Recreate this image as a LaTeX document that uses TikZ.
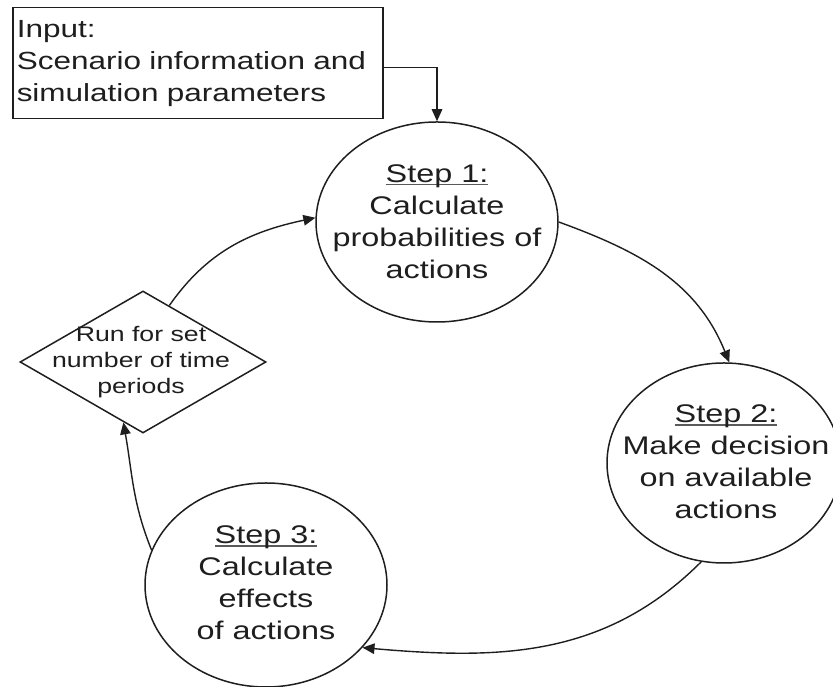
\documentclass[tikz,border=0pt]{standalone}
\usepackage{fontspec}
\setmainfont[FakeStretch=1.27]{Liberation Sans}
\usetikzlibrary{shapes.geometric,arrows.meta}
\definecolor{inkc}{RGB}{30,30,30}
\definecolor{txtc}{RGB}{30,30,30}
\definecolor{ulc}{RGB}{90,90,90}
\newcommand\stepline[1]{\leavevmode\setbox0\hbox{#1}\rlap{\color{ulc}\rule[-3.2pt]{\wd0}{1.8pt}}\box0}
\begin{document}
\begin{tikzpicture}[x=1pt,y=1pt,
  line width=1.5pt, draw=inkc,
  stepshape/.style={ellipse, draw, inner sep=0pt},
  steptext/.style={align=center, text=txtc, inner sep=0pt,
    font=\fontsize{25.5}{32}\selectfont},
  dtext/.style={align=center, text=txtc, inner sep=0pt,
    font=\fontsize{21}{26}\selectfont},
  inbox/.style={rectangle, draw, anchor=north west, minimum width=370pt,
    minimum height=111pt, text width=362pt, inner xsep=4pt, inner ysep=0pt,
    align=left, text=txtc, font=\fontsize{24.8}{32}\selectfont},
  flow/.style={draw=inkc, line width=1.4pt, -{Triangle[length=12pt,width=10.5pt]}}
]
\useasboundingbox (0,0) rectangle (833,687);

\node[inbox] (in) at (12,680) {Input:\\Scenario information and\\simulation parameters};

\node[stepshape, minimum width=242pt, minimum height=200pt] (s1) at (437,465) {};
\node[steptext] (s1t) at (437,465.5) {\stepline{Step 1:}\\Calculate\\probabilities of\\actions};

\node[stepshape, minimum width=234pt, minimum height=200pt] (s2) at (724,224) {};
\node[steptext] (s2t) at (726,225) {\stepline{Step 2:}\\Make decision\\on available\\actions};

\node[stepshape, minimum width=242pt, minimum height=204pt] (s3) at (266,102) {};
\node[steptext] (s3t) at (266,104) {\stepline{Step 3:}\\Calculate\\effects\\of actions};

\node[diamond, draw, minimum width=246pt, minimum height=142pt, inner sep=0pt] (d) at (143,325) {};
\node[dtext] (dt) at (141,324.5) {Run for set\\number of time\\periods};

\draw[flow] ([yshift=-4pt]in.east) -| (s1.north);
\draw[flow] (s1.east) to[out=-20,in=112] (s2.87);
\draw[flow] (s2.257) to[out=225,in=-5] (s3.-33);
\draw[flow] (s3.163) to[out=112,in=-80] (d.252);
\draw[flow] (d.65) to[out=55,in=192] (s1.178);
\end{tikzpicture}
\end{document}
